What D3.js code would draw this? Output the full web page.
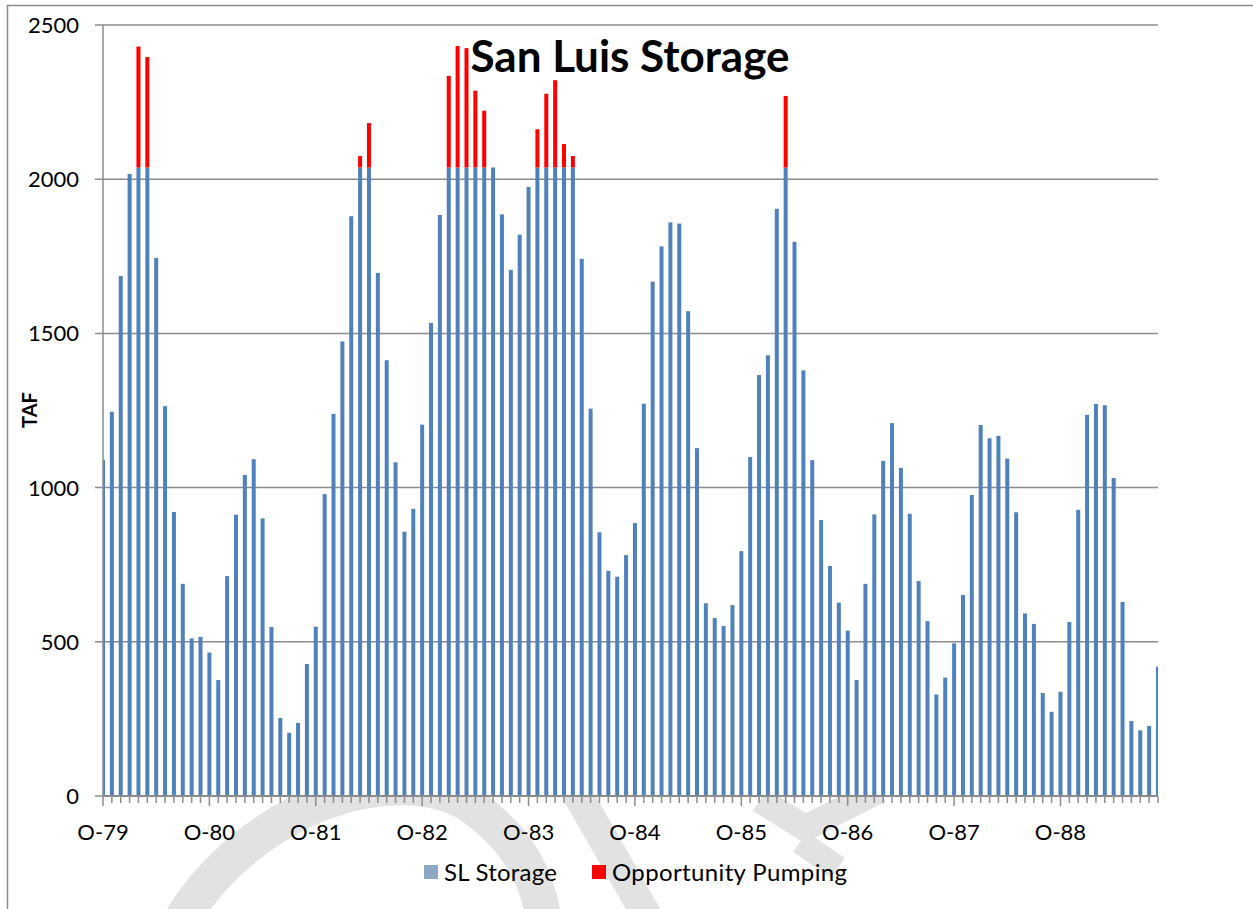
<!DOCTYPE html>
<html>
<head>
<meta charset="utf-8">
<title>San Luis Storage</title>
<script src="https://cdnjs.cloudflare.com/ajax/libs/d3/7.8.5/d3.min.js"></script>
<style>
  body { margin: 0; background: #fff; }
  text { font-family: Lato, "Open Sans", sans-serif; fill: #000; }
  .grid line { stroke: #8c8c8c; stroke-width: 1.5px; }
</style>
</head>
<body>
<div id="chart"></div>
<script>
// monthly values, Oct 1979 .. Sep 1989 (TAF)
var yearLabels = ["O-79", "O-80", "O-81", "O-82", "O-83", "O-84", "O-85", "O-86", "O-87", "O-88"];

var slStorage = [
  1089, 1246, 1686, 2017, 2038, 2038, 1745, 1264, 921, 688, 511, 516,
  465, 376, 713, 912, 1041, 1092, 900, 548, 253, 205, 237, 428,
  549, 979, 1239, 1474, 1880, 2038, 2038, 1696, 1413, 1082, 857, 931,
  1204, 1534, 1884, 2038, 2038, 2038, 2038, 2038, 2038, 1886, 1706, 1820,
  1975, 2038, 2038, 2038, 2038, 2038, 1742, 1256, 855, 730, 711, 781,
  885, 1272, 1668, 1782, 1860, 1856, 1572, 1128, 625, 577, 551, 619,
  794, 1099, 1365, 1429, 1904, 2038, 1797, 1380, 1089, 895, 746, 627,
  536, 376, 688, 913, 1087, 1209, 1064, 915, 697, 567, 329, 384,
  495, 652, 976, 1203, 1160, 1168, 1094, 920, 592, 558, 334, 273,
  338, 564, 928, 1236, 1271, 1267, 1031, 629, 243, 213, 227, 419
];

var oppPumping = [
  0, 0, 0, 0, 392, 358, 0, 0, 0, 0, 0, 0,
  0, 0, 0, 0, 0, 0, 0, 0, 0, 0, 0, 0,
  0, 0, 0, 0, 0, 37, 144, 0, 0, 0, 0, 0,
  0, 0, 0, 297, 394, 387, 249, 184, 0, 0, 0, 0,
  0, 124, 239, 283, 76, 37, 0, 0, 0, 0, 0, 0,
  0, 0, 0, 0, 0, 0, 0, 0, 0, 0, 0, 0,
  0, 0, 0, 0, 0, 232, 0, 0, 0, 0, 0, 0,
  0, 0, 0, 0, 0, 0, 0, 0, 0, 0, 0, 0,
  0, 0, 0, 0, 0, 0, 0, 0, 0, 0, 0, 0,
  0, 0, 0, 0, 0, 0, 0, 0, 0, 0, 0, 0
];

var yTicks = [0, 500, 1000, 1500, 2000, 2500];

var width = 1253, height = 909;
var plot = { left: 103, right: 1158, top: 25, bottom: 796 };

var svg = d3.select("#chart").append("svg")
    .attr("width", width)
    .attr("height", height);

// faint watermark strokes, hidden by the plot area
var wm = svg.append("g").attr("fill", "none").attr("stroke", "#e2e2e2");
wm.append("path").attr("stroke-width", 36)
    .attr("d", "M175,930 C250,800 400,760 470,805 C520,840 540,880 545,930");
wm.append("path").attr("stroke-width", 30)
    .attr("d", "M575,790 L655,930");
wm.append("path").attr("stroke-width", 26)
    .attr("d", "M760,800 L805,828 L880,790");
wm.append("path").attr("stroke-width", 24)
    .attr("d", "M800,842 L838,868");

// chart frame (only left and top edges show)
svg.append("path")
    .attr("d", "M7.5,909 L7.5,5.5 L1253,5.5")
    .attr("fill", "none")
    .attr("stroke", "#8c8c8c")
    .attr("stroke-width", 1.5);

svg.append("rect")
    .attr("x", plot.left)
    .attr("y", plot.top)
    .attr("width", plot.right - plot.left)
    .attr("height", plot.bottom - plot.top)
    .attr("fill", "#fff");

var months = d3.range(slStorage.length);

var x = d3.scalePoint()
    .domain(months)
    .range([plot.left, plot.right]);

var y = d3.scaleLinear()
    .domain([0, 2500])
    .range([plot.bottom, plot.top]);

// gridlines with outside tick
svg.append("g")
    .attr("class", "grid")
    .selectAll("line")
    .data(yTicks)
    .enter().append("line")
    .attr("x1", plot.left - 8)
    .attr("x2", plot.right)
    .attr("y1", function (d) { return y(d); })
    .attr("y2", function (d) { return y(d); });

svg.append("g")
    .selectAll("text")
    .data(yTicks)
    .enter().append("text")
    .attr("x", 79)
    .attr("y", function (d) { return y(d) + 8; })
    .attr("text-anchor", "end")
    .attr("font-size", "22px")
    .text(function (d) { return d; });

svg.append("clipPath")
    .attr("id", "plotclip")
    .append("rect")
    .attr("x", plot.left)
    .attr("y", 0)
    .attr("width", plot.right - plot.left)
    .attr("height", plot.bottom);

var barW = 4;
var bars = svg.append("g").attr("clip-path", "url(#plotclip)");

bars.selectAll(".sl")
    .data(months)
    .enter().append("rect")
    .attr("class", "sl")
    .attr("x", function (i) { return x(i) - barW / 2; })
    .attr("width", barW)
    .attr("y", function (i) { return y(slStorage[i]); })
    .attr("height", function (i) { return y(0) - y(slStorage[i]); })
    .attr("fill", "#4f81bd");

bars.selectAll(".op")
    .data(months.filter(function (i) { return oppPumping[i] > 0; }))
    .enter().append("rect")
    .attr("class", "op")
    .attr("x", function (i) { return x(i) - barW / 2; })
    .attr("width", barW)
    .attr("y", function (i) { return y(slStorage[i] + oppPumping[i]); })
    .attr("height", function (i) { return y(slStorage[i]) - y(slStorage[i] + oppPumping[i]); })
    .attr("fill", "#ff0000");

// axes lines
svg.append("line")
    .attr("x1", plot.left).attr("x2", plot.left)
    .attr("y1", plot.top).attr("y2", plot.bottom)
    .attr("stroke", "#8c8c8c").attr("stroke-width", 1.5);

svg.append("line")
    .attr("x1", plot.left).attr("x2", plot.right)
    .attr("y1", plot.bottom).attr("y2", plot.bottom)
    .attr("stroke", "#8c8c8c").attr("stroke-width", 2);

svg.append("g")
    .selectAll("line")
    .data(months)
    .enter().append("line")
    .attr("x1", function (i) { return x(i); })
    .attr("x2", function (i) { return x(i); })
    .attr("y1", plot.bottom)
    .attr("y2", function (i) { return plot.bottom + (i % 12 === 0 ? 10 : 7); })
    .attr("stroke", "#8c8c8c")
    .attr("stroke-width", 1.5);

svg.append("g")
    .selectAll("text")
    .data(yearLabels)
    .enter().append("text")
    .attr("x", function (d, k) { return x(k * 12); })
    .attr("y", 840)
    .attr("text-anchor", "middle")
    .attr("font-size", "22px")
    .text(function (d) { return d; });

// axis title
svg.append("text")
    .attr("transform", "translate(37,410) rotate(-90)")
    .attr("text-anchor", "middle")
    .attr("font-size", "20px")
    .attr("font-weight", "bold")
    .text("TAF");

// chart title
svg.append("text")
    .attr("x", 630)
    .attr("y", 72)
    .attr("text-anchor", "middle")
    .attr("font-size", "44px")
    .attr("font-weight", "bold")
    .text("San Luis Storage");

// legend
var legendItems = [
  { name: "SL Storage", color: "#8ba6c7", x: 424 },
  { name: "Opportunity Pumping", color: "#ff0000", x: 592 }
];
var legend = svg.append("g").selectAll("g")
    .data(legendItems)
    .enter().append("g")
    .attr("transform", function (d) { return "translate(" + d.x + ",865)"; });

legend.append("rect")
    .attr("width", 14)
    .attr("height", 14)
    .attr("fill", function (d) { return d.color; });

legend.append("text")
    .attr("x", 20)
    .attr("y", 16)
    .attr("font-size", "24px")
    .attr("textLength", function (d, i) { return i === 0 ? 113 : 235; })
    .text(function (d) { return d.name; });
</script>
</body>
</html>
